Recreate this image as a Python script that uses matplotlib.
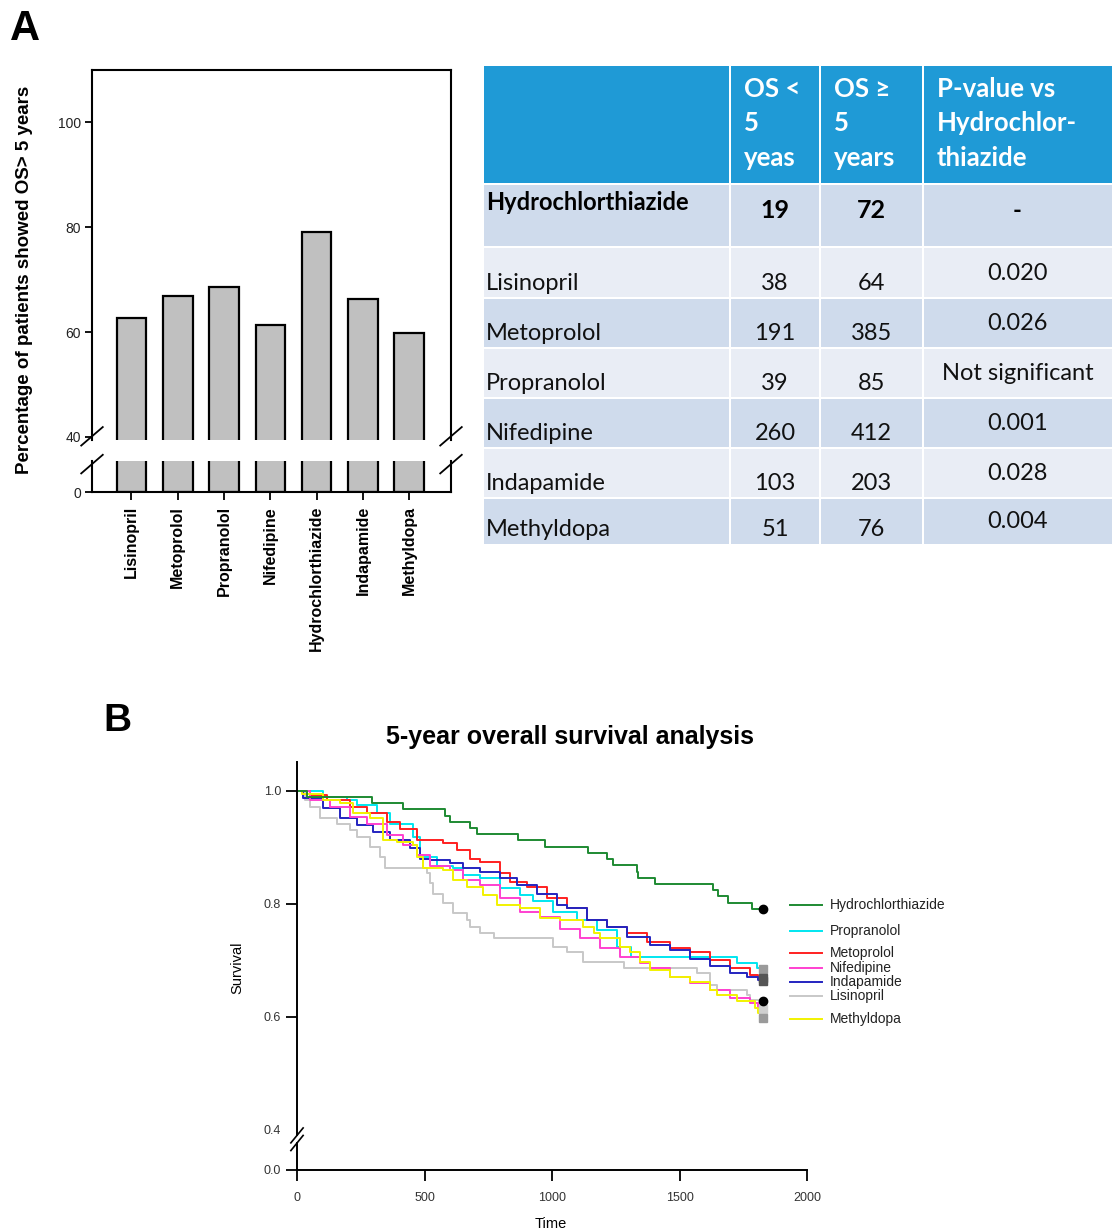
import numpy as np
import matplotlib
matplotlib.use("Agg")
import matplotlib.pyplot as plt
from matplotlib.patches import Rectangle

W, H = 1112, 1232

# %% panel A - bar chart data
drugs = ["Lisinopril", "Metoprolol", "Propranolol", "Nifedipine",
         "Hydrochlorthiazide", "Indapamide", "Methyldopa"]
pct_os5 = [62.7, 66.8, 68.5, 61.3, 79.1, 66.3, 59.8]

# %% panel A - table data
tbl_drugs = ["Hydrochlorthiazide", "Lisinopril", "Metoprolol", "Propranolol",
             "Nifedipine", "Indapamide", "Methyldopa"]
os_lt5 = [19, 38, 191, 39, 260, 103, 51]
os_ge5 = [72, 64, 385, 85, 412, 203, 76]
pvals = ["-", "0.020", "0.026", "Not significant", "0.001", "0.028", "0.004"]
hdr_os_lt5 = ["OS <", "5", "yeas"]
hdr_os_ge5 = ["OS \u2265", "5", "years"]
hdr_pval = ["P-value vs", "Hydrochlor-", "thiazide"]

# %% panel B - survival curves (days, survival)
hct_t = [0, 40, 293, 417, 580, 600, 678, 704, 867, 972, 1141, 1213, 1240, 1331, 1338,
         1403, 1631, 1651, 1690, 1782, 1825]
hct_s = [1.0, 0.989, 0.978, 0.967, 0.956, 0.945, 0.934, 0.923, 0.912, 0.901, 0.890,
         0.879, 0.868, 0.857, 0.846, 0.835, 0.824, 0.813, 0.802, 0.791, 0.791]

pro_t = [0, 103, 194, 234, 312, 364, 456, 482, 547, 613, 652, 717, 796, 874, 926,
         1004, 1096, 1175, 1253, 1309, 1723, 1801, 1825]
pro_s = [1.0, 0.989, 0.984, 0.975, 0.960, 0.942, 0.919, 0.883, 0.866, 0.863, 0.851,
         0.845, 0.827, 0.815, 0.804, 0.786, 0.771, 0.753, 0.724, 0.705, 0.695, 0.686, 0.685]

met_t = [0, 51, 116, 208, 273, 351, 404, 469, 573, 626, 678, 717, 796, 835, 900, 978,
         1057, 1136, 1214, 1292, 1371, 1462, 1540, 1618, 1697, 1775, 1808, 1825]
met_s = [1.0, 0.992, 0.984, 0.972, 0.960, 0.945, 0.933, 0.913, 0.907, 0.895, 0.880,
         0.874, 0.854, 0.839, 0.830, 0.810, 0.792, 0.771, 0.759, 0.748, 0.733, 0.721,
         0.715, 0.700, 0.686, 0.674, 0.668, 0.668]

nif_t = [0, 51, 129, 208, 273, 351, 417, 469, 521, 600, 652, 717, 796, 874, 952, 1030,
         1109, 1188, 1266, 1345, 1383, 1462, 1540, 1618, 1697, 1775, 1808, 1825]
nif_s = [1.0, 0.984, 0.972, 0.954, 0.942, 0.922, 0.904, 0.886, 0.866, 0.860, 0.842,
         0.833, 0.810, 0.786, 0.777, 0.756, 0.739, 0.721, 0.706, 0.695, 0.686, 0.671,
         0.659, 0.647, 0.633, 0.624, 0.615, 0.613]

ind_t = [0, 25, 103, 168, 234, 299, 364, 443, 482, 521, 600, 652, 717, 796, 861, 939,
         1017, 1057, 1136, 1214, 1292, 1383, 1462, 1540, 1618, 1697, 1762, 1808, 1825]
ind_s = [1.0, 0.987, 0.969, 0.951, 0.939, 0.927, 0.913, 0.898, 0.880, 0.877, 0.873,
         0.863, 0.857, 0.845, 0.833, 0.818, 0.798, 0.792, 0.771, 0.759, 0.742, 0.727,
         0.718, 0.703, 0.689, 0.677, 0.671, 0.665, 0.663]

lis_t = [0, 31, 51, 90, 155, 208, 234, 286, 325, 345, 508, 521, 534, 573, 613, 665, 678,
         717, 770, 1004, 1057, 1122, 1281, 1566, 1618, 1645, 1762, 1775, 1825]
lis_s = [1.0, 0.984, 0.972, 0.951, 0.942, 0.930, 0.919, 0.901, 0.883, 0.863, 0.854,
         0.836, 0.818, 0.801, 0.783, 0.771, 0.759, 0.748, 0.739, 0.724, 0.715, 0.697,
         0.686, 0.677, 0.656, 0.647, 0.638, 0.630, 0.627]

mdp_t = [0, 20, 103, 168, 221, 286, 338, 390, 456, 469, 495, 573, 613, 665, 730, 782,
         874, 952, 1030, 1122, 1162, 1188, 1266, 1305, 1344, 1383, 1462, 1540, 1618,
         1645, 1723, 1795, 1808, 1825]
mdp_s = [1.0, 0.995, 0.984, 0.978, 0.960, 0.951, 0.913, 0.910, 0.904, 0.883, 0.863,
         0.860, 0.842, 0.830, 0.815, 0.798, 0.792, 0.774, 0.771, 0.759, 0.748, 0.739,
         0.724, 0.715, 0.697, 0.683, 0.671, 0.662, 0.647, 0.638, 0.627, 0.615, 0.606,
         0.598]

km_names = ["Hydrochlorthiazide", "Propranolol", "Metoprolol", "Nifedipine",
            "Indapamide", "Lisinopril", "Methyldopa"]
km_times = [hct_t, pro_t, met_t, nif_t, ind_t, lis_t, mdp_t]
km_surv = [hct_s, pro_s, met_s, nif_s, ind_s, lis_s, mdp_s]

# styles
km_colors = ["#1e8a32", "#00e6f0", "#ff2020", "#ff40d0", "#2424c0", "#c8c8c8", "#f2f200"]
end_marks = ["o", "s", "s", "s", "s", "o", "s"]
end_cols = ["black", "#9a9a9a", "#555555", "#cfcfcf", "#555555", "black", "#9a9a9a"]
legend_y = [0.798, 0.752, 0.713, 0.686, 0.661, 0.636, 0.596]

plt.rcParams["font.family"] = ["Liberation Sans", "DejaVu Sans"]
tfont = ["Lato", "DejaVu Sans"]

fig = plt.figure(figsize=(W / 100, H / 100), dpi=100)


def px_axes(left, top, right, bottom):
    return fig.add_axes([left / W, 1 - bottom / H, (right - left) / W, (bottom - top) / H])


# %% table (pixel coordinates)
ax0 = fig.add_axes([0, 0, 1, 1])
ax0.set_xlim(0, W)
ax0.set_ylim(H, 0)
ax0.axis("off")
ax0.patch.set_visible(False)

col_edges = [483, 730, 820, 923, 1116]
row_edges = [65, 184, 247, 298, 348, 398, 448, 498, 545]
row_cols = ["#cfdbec", "#e9edf5"]
for r in range(len(row_edges) - 1):
    y0, y1 = row_edges[r], row_edges[r + 1]
    for c in range(4):
        x0, x1 = col_edges[c], col_edges[c + 1]
        fc = "#1f9ad6" if r == 0 else row_cols[(r - 1) % 2]
        ax0.add_patch(Rectangle((x0 + 1, y0 + 1), x1 - x0 - 2, y1 - y0 - 2, fc=fc, ec="none"))

hdr_y = [89, 123, 158]
for c, lines in zip([1, 2, 3], [hdr_os_lt5, hdr_os_ge5, hdr_pval]):
    for yy, txt in zip(hdr_y, lines):
        ax0.text(col_edges[c] + 14, yy, txt, color="white", fontsize=18.5, fontweight="bold",
                 family=tfont, ha="left", va="center")

num_x = [(col_edges[1] + col_edges[2]) / 2, (col_edges[2] + col_edges[3]) / 2]
p_x = (col_edges[3] + 1112) / 2
for i, name in enumerate(tbl_drugs):
    top, bot = row_edges[i + 1], row_edges[i + 2]
    if i == 0:
        kw = dict(fontsize=17, fontweight="bold", family=tfont, va="center")
        ax0.text(486, top + 19, name, ha="left", **kw)
        ax0.text(num_x[0], top + 26, str(os_lt5[i]), ha="center", fontsize=18,
                 fontweight="bold", family=tfont, va="center")
        ax0.text(num_x[1], top + 26, str(os_ge5[i]), ha="center", fontsize=18,
                 fontweight="bold", family=tfont, va="center")
        ax0.text(p_x, top + 26, pvals[i], ha="center", **kw)
    else:
        kw = dict(fontsize=17, family=tfont, va="center", color="#111111")
        ax0.text(486, bot - 15, name, ha="left", **kw)
        ax0.text(num_x[0], bot - 15, str(os_lt5[i]), ha="center", **kw)
        ax0.text(num_x[1], bot - 15, str(os_ge5[i]), ha="center", **kw)
        ax0.text(p_x, bot - 24, pvals[i], ha="center", **kw)

# %% bar chart with broken axis
x = np.arange(len(drugs))
ax_hi = px_axes(92, 70, 451, 440)
ax_lo = px_axes(92, 461, 451, 492)
for ax in (ax_hi, ax_lo):
    ax.bar(x, pct_os5, width=0.64, color="#c0c0c0", edgecolor="black", linewidth=1.6)
    ax.set_xlim(-0.85, 6.9)
    ax.patch.set_visible(False)
    for sp in ax.spines.values():
        sp.set_linewidth(1.5)
    ax.tick_params(axis="y", direction="out", length=5, width=1.3, labelsize=10,
                   labelcolor="#222222", pad=3)

ax_hi.set_ylim(39.4, 110)
ax_hi.set_yticks([40, 60, 80, 100])
ax_hi.spines["bottom"].set_visible(False)
ax_hi.set_xticks([])

ax_lo.set_ylim(0, 5.9)
ax_lo.set_yticks([0])
ax_lo.spines["top"].set_visible(False)
ax_lo.set_xticks(x)
ax_lo.set_xticklabels(drugs, rotation=90, fontweight="bold", fontsize=11.5)
ax_lo.tick_params(axis="x", direction="out", length=6, width=1.3, pad=4)

brk = dict(color="black", lw=1.3, clip_on=False)
for xs in (0, 1):
    ax_hi.plot([xs - 0.03, xs + 0.03], [-0.015, 0.035], transform=ax_hi.transAxes, **brk)
    ax_lo.plot([xs - 0.03, xs + 0.03], [0.6, 1.2], transform=ax_lo.transAxes, **brk)

fig.text(25 / W, 1 - 280 / H, "Percentage of patients showed OS> 5 years", rotation=90,
         ha="center", va="center", fontsize=13.5, fontweight="bold")

# %% panel B - Kaplan-Meier curves
kb_hi = px_axes(297, 762.5, 807.4, 1135.4)
kb_lo = px_axes(297, 1143, 807.4, 1170)
for ax in (kb_hi, kb_lo):
    ax.set_xlim(0, 2000)
    ax.patch.set_visible(False)
    for side in ("top", "right"):
        ax.spines[side].set_visible(False)
    for sp in ax.spines.values():
        sp.set_linewidth(1.4)
    ax.tick_params(direction="out", length=8, width=1.3, labelsize=9, labelcolor="#333333")

kb_hi.set_ylim(0.39, 1.05)
kb_hi.spines["bottom"].set_visible(False)
kb_hi.set_xticks([])
kb_hi.set_yticks([0.4, 0.6, 0.8, 1.0])
kb_hi.set_yticklabels(["0.4", "0.6", "0.8", "1.0"])
kb_hi.yaxis.get_major_ticks()[0].tick1line.set_visible(False)

kb_lo.set_ylim(0, 0.048)
kb_lo.set_yticks([0])
kb_lo.set_yticklabels(["0.0"])
kb_lo.set_xticks([0, 500, 1000, 1500, 2000])
kb_lo.tick_params(axis="x", pad=8)

brk2 = dict(color="black", lw=1.2, clip_on=False)
kb_hi.plot([-0.012, 0.012], [-0.02, 0.02], transform=kb_hi.transAxes, **brk2)
kb_lo.plot([-0.012, 0.012], [0.72, 1.28], transform=kb_lo.transAxes, **brk2)

for i in [5, 1, 2, 4, 3, 6, 0]:
    kb_hi.step(km_times[i], km_surv[i], where="post", color=km_colors[i], lw=1.4)

for i in range(len(km_names)):
    kb_hi.plot(km_times[i][-1], km_surv[i][-1], marker=end_marks[i], color=end_cols[i],
               ms=6, zorder=5)
    kb_hi.plot([1932, 2057], [legend_y[i]] * 2, color=km_colors[i], lw=1.4, clip_on=False)
    kb_hi.text(2089, legend_y[i], km_names[i], fontsize=10, va="center", ha="left",
               color="#222222", clip_on=False)

fig.text(570 / W, 1 - 737 / H, "5-year overall survival analysis", ha="center", va="center",
         fontsize=18, fontweight="bold")
fig.text(237 / W, 1 - 968 / H, "Survival", rotation=90, ha="center", va="center", fontsize=10.5)
fig.text(551 / W, 1 - 1224 / H, "Time", ha="center", va="center", fontsize=10.5)

fig.text(25 / W, 1 - 29 / H, "A", ha="center", va="center", fontsize=30, fontweight="bold")
fig.text(117 / W, 1 - 721 / H, "B", ha="center", va="center", fontsize=28, fontweight="bold")

fig.savefig("out.png", dpi=100)
